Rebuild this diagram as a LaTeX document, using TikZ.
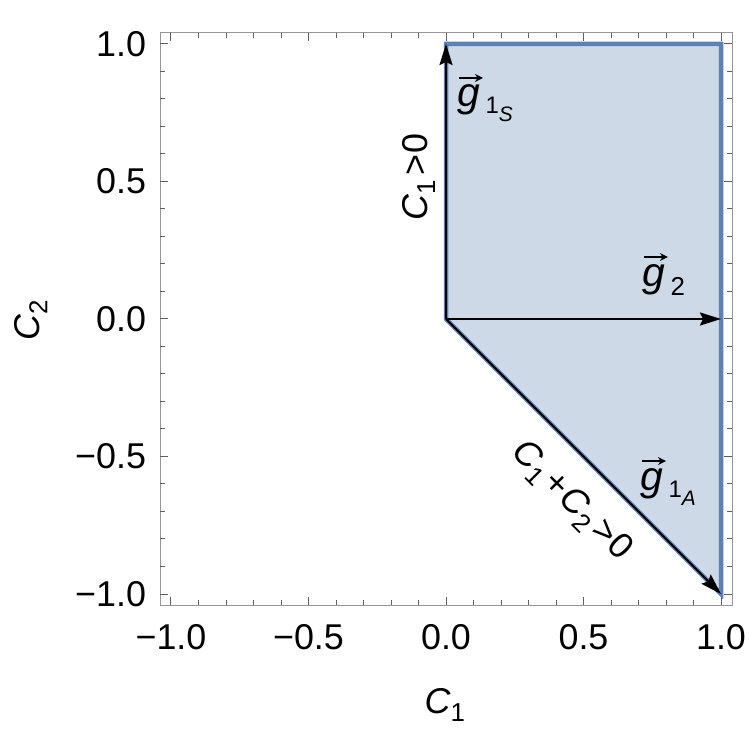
\documentclass[tikz,border=0pt]{standalone}
\usepackage{fontspec}
\setmainfont{Liberation Sans}
\usetikzlibrary{arrows.meta}
\definecolor{regfill}{RGB}{206,217,232}
\definecolor{regedge}{RGB}{94,129,181}
\definecolor{framec}{RGB}{150,150,150}
\definecolor{tickc}{RGB}{95,95,95}
\newcommand\vg{\tikz[baseline=0pt,x=1bp,y=1bp]{\node[anchor=base west,inner sep=0pt] (gg) at (0,0) {\itshape g};\draw[line width=2.2bp,-{Stealth[length=8bp,width=8bp]}] (1.5,29) -- (25,29);}}
\newcommand\sbs[1]{\raisebox{-8bp}{\fontsize{26}{26}\selectfont #1}}
\newcommand\gsub[1]{\kern1.5bp\raisebox{-9bp}{\fontsize{26}{26}\selectfont #1}}
\newcommand\gssub[2]{\kern1.5bp\raisebox{-7bp}{\fontsize{24}{24}\selectfont #1\raisebox{-8bp}{\fontsize{21}{21}\selectfont\itshape #2}}}
\begin{document}
\begin{tikzpicture}[x=275bp,y=275bp,
  every node/.style={inner sep=0pt,outer sep=0pt},
  big/.style={font=\fontsize{36}{40}\selectfont},
  glab/.style={font=\fontsize{41}{44}\selectfont,anchor=base west},
  vecarrow/.style={line width=2bp,-{Stealth[length=21bp,width=13bp,inset=3bp]}},
  region/.style={fill=regfill,draw=regedge,line width=4.5bp,line join=miter},
  framestyle/.style={draw=framec,line width=1bp},
  tickstyle/.style={draw=tickc,line width=1bp}]
\useasboundingbox (-1.62182,-1.56727) rectangle (1.10545,1.16);
% region
\coordinate (O) at (0,0);
\coordinate (A) at (0,1);
\coordinate (D) at (1,1);
\coordinate (B) at (1,0);
\coordinate (Cc) at (1,-1);
\path[region] (O) -- (A) -- (D) -- (Cc) -- cycle;
% arrows
\draw[vecarrow] (O) -- (A);
\draw[vecarrow] (O) -- (B);
\draw[vecarrow] (O) -- (Cc);
% frame
\coordinate (F1) at (-1.04,-1.04);
\coordinate (F2) at (1.04,1.04);
\draw[framestyle] (F1) rectangle (F2);
\foreach \i in {-10,...,10}{
  \pgfmathsetmacro\t{\i/10}
  \pgfmathsetmacro\L{ifthenelse(mod(\i,5)==0,8,5)}
  \draw[tickstyle] (\t,-1.04) -- ++(0,\L bp);
  \draw[tickstyle] (\t,1.04) -- ++(0,-\L bp);
  \draw[tickstyle] (-1.04,\t) -- ++(\L bp,0);
  \draw[tickstyle] (1.04,\t) -- ++(-\L bp,0);
}
% tick labels
\foreach \v/\s/\n in {1/1.0/a,0.5/0.5/b,0/0.0/c,-0.5/−0.5/d,-1/−1.0/e}{
  \node[big,anchor=east] (yt\n) at (-1.091,\v) {\s};
  \node[big,anchor=center] (xt\n) at (\v,-1.156) {\s};
}
% axis labels
\node[big] (xlab) at (-0.004,-1.405) {\textit{C}\sbs{1}};
\node[big,rotate=90] (ylab) at (-1.51,-0.004) {\textit{C}\sbs{2}};
% constraint labels
\node[big,rotate=90] (c1lab) at (-0.100,0.516) {\textit{C}\sbs{1}\kern4bp>\kern1bp0};
\node[big,rotate=-45] (c12lab) at (0.455,-0.665) {\textit{C}\sbs{1}\kern3bp+\kern2bp\textit{C}\sbs{2}\kern4bp>\kern1.5bp0};
% vector labels
\node[glab] (g1s) at (0.0436,0.771) {\vg\gssub{1}{S}};
\node[glab] (g2) at (0.716,0.12) {\vg\gsub{2}};
\node[glab] (g1a) at (0.709,-0.622) {\vg\gssub{1}{A}};
\end{tikzpicture}
\end{document}
